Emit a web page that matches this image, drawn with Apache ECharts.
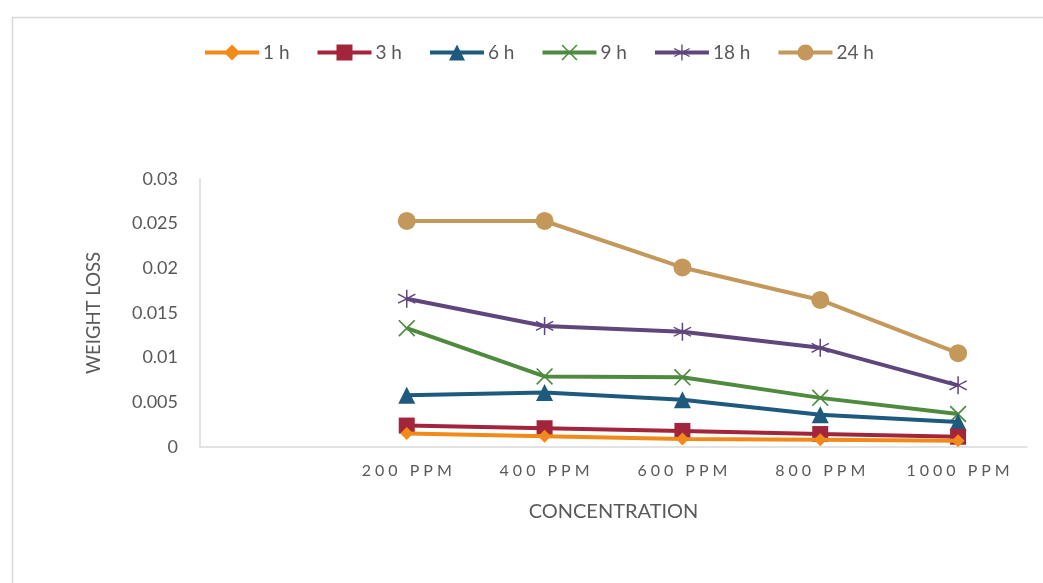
<!DOCTYPE html>
<html>
<head>
<meta charset="utf-8">
<script src="https://cdn.jsdelivr.net/npm/echarts@6/dist/echarts.min.js"></script>
<style>html,body{margin:0;padding:0;background:#fff;}#chart{width:1043px;height:583px;}</style>
</head>
<body>
<div id="chart"></div>
<script>
const categories = ['', '200 PPM', '400 PPM', '600 PPM', '800 PPM', '1000 PPM'];
const yTicks = [0, 0.005, 0.01, 0.015, 0.02, 0.025, 0.03];
const seriesNames = ['1 h', '3 h', '6 h', '9 h', '18 h', '24 h'];
const h1 = [null, 0.0015, 0.0012, 0.0009, 0.0008, 0.0007];
const h3 = [null, 0.0024, 0.0021, 0.0018, 0.00145, 0.00115];
const h6 = [null, 0.0058, 0.0061, 0.0053, 0.0036, 0.0028];
const h9 = [null, 0.0133, 0.0079, 0.0078, 0.0055, 0.0037];
const h18 = [null, 0.0166, 0.01355, 0.0129, 0.0111, 0.0069];
const h24 = [null, 0.0253, 0.0253, 0.0201, 0.01646, 0.0105];

function starPath(n, startDeg, hw) {
  const R = 10, d = 2 * Math.PI / n, pts = [];
  for (let i = 0; i < n; i++) {
    const t = startDeg * Math.PI / 180 + i * d;
    const ib = t - d / 2, ir = hw / Math.sin(d / 2);
    pts.push([R + ir * Math.cos(ib), R + ir * Math.sin(ib)]);
    const dx = Math.cos(t), dy = Math.sin(t), px = -dy, py = dx;
    pts.push([R + R * dx - hw * px, R + R * dy - hw * py]);
    pts.push([R + R * dx + hw * px, R + R * dy + hw * py]);
  }
  return 'path://M' + pts.map(p => p[0].toFixed(3) + ',' + p[1].toFixed(3)).join(' L') + ' Z';
}
const xSym = starPath(4, 45, 0.75);
const astSym = starPath(6, 90, 0.75);

const colors = ['#F28A1B', '#A2253B', '#1E5A7E', '#4E8B3F', '#5F467C', '#C3985A'];
const symbols = ['diamond', 'rect', 'triangle', xSym, astSym, 'circle'];
const sizes = [13, 16, 17, 17, 18, 18];
const datas = [h1, h3, h6, h9, h18, h24];
const font = 'Lato, "Open Sans", sans-serif';

const chart = echarts.init(document.getElementById('chart'), null, {renderer: 'canvas'});
chart.setOption({
  animation: false,
  backgroundColor: '#fff',
  color: colors,
  graphic: [{
    type: 'rect', left: 10, top: 15, shape: {width: 1100, height: 700},
    style: {fill: 'none', stroke: '#d9d9d9', lineWidth: 1.5}, silent: true
  }],
  legend: {
    top: 43, left: 203, padding: 0,
    itemWidth: 54, itemHeight: 20, itemGap: 26,
    lineStyle: {width: 4},
    textStyle: {fontFamily: font, fontSize: 19, color: '#595959', padding: [0, 0, 0, -1]},
    data: seriesNames
  },
  grid: {left: 200, right: 16, top: 179, bottom: 136, containLabel: false},
  xAxis: {
    type: 'category', data: categories, boundaryGap: true,
    name: 'CONCENTRATION', nameLocation: 'middle', nameGap: 55,
    nameTextStyle: {fontFamily: font, fontSize: 20, color: '#595959'},
    axisLine: {show: true, lineStyle: {color: '#d9d9d9', width: 1.5}},
    axisTick: {show: false},
    axisLabel: {
      fontFamily: font, fontSize: 16, color: '#595959', margin: 16, interval: 0,
      formatter: v => v.split('').join('\u2005')
    },
    splitLine: {show: false}
  },
  yAxis: {
    type: 'value', min: yTicks[0], max: yTicks[yTicks.length - 1], interval: yTicks[1] - yTicks[0],
    name: 'WEIGHT LOSS', nameLocation: 'middle', nameGap: 96, nameRotate: 90,
    nameTextStyle: {fontFamily: font, fontSize: 18.5, color: '#595959'},
    axisLine: {show: true, lineStyle: {color: '#d9d9d9', width: 1.5}},
    axisTick: {show: false},
    axisLabel: {fontFamily: font, fontSize: 18, color: '#595959', margin: 22},
    splitLine: {show: false}
  },
  series: seriesNames.map((n, i) => ({
    name: n, type: 'line', data: datas[i],
    symbol: symbols[i], symbolSize: sizes[i], showAllSymbol: true,
    lineStyle: {width: 4, color: colors[i]},
    itemStyle: {color: colors[i]},
    connectNulls: false, z: 2 + (5 - i)
  }))
});
</script>
</body>
</html>
